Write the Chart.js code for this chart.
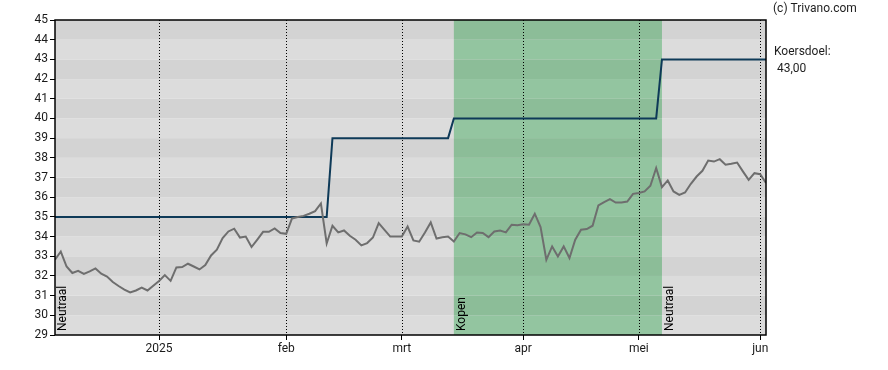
<!doctype html>
<html lang="nl">
<head>
  <meta charset="utf-8">
  <title>Koers en koersdoel</title>
  <style>
    html, body { margin: 0; padding: 0; background: #fff; }
    #chart { display: block; }
  </style>
</head>
<body>
  <canvas id="chart" width="888" height="370"></canvas>

  <script src="https://cdn.jsdelivr.net/npm/chart.js"></script>
  <script>
    // trading days from 4 dec 2024 to 3 jun 2025, one value per day
    const prices = [
      32.82, 33.24, 32.48, 32.15, 32.26, 32.10, 32.23, 32.38, 32.11, 31.97,
      31.69, 31.49, 31.31, 31.16, 31.26, 31.41, 31.26, 31.50, 31.74, 32.04,
      31.75, 32.43, 32.45, 32.62, 32.48, 32.33, 32.55, 33.04, 33.33, 33.92,
      34.26, 34.40, 33.95, 34.00, 33.47, 33.85, 34.24, 34.24, 34.41, 34.18,
      34.14, 34.92, 34.99, 35.05, 35.16, 35.29, 35.68, 33.65, 34.55, 34.21,
      34.31, 34.04, 33.84, 33.55, 33.67, 33.95, 34.68, 34.34, 34.00, 34.00,
      34.00, 34.51, 33.80, 33.74, 34.21, 34.72, 33.90, 33.97, 34.00, 33.75,
      34.18, 34.11, 33.97, 34.21, 34.18, 33.97, 34.26, 34.31, 34.21, 34.60,
      34.58, 34.62, 34.60, 35.16, 34.48, 32.82, 33.50, 32.99, 33.50, 32.91,
      33.84, 34.35, 34.38, 34.55, 35.58, 35.75, 35.90, 35.73, 35.73, 35.78,
      36.17, 36.21, 36.29, 36.58, 37.48, 36.51, 36.85, 36.29, 36.12, 36.24,
      36.68, 37.05, 37.34, 37.86, 37.81, 37.93, 37.65, 37.70, 37.76, 37.31,
      36.88, 37.22, 37.17, 36.72
    ];

    // koersdoel: day index where each level starts
    const targetStart  = [0, 48, 69, 105];
    const targetValues = [35, 39, 40, 43];

    // advies periods
    const adviceStart  = [0, 69, 105];
    const adviceLabels = ['Neutraal', 'Kopen', 'Neutraal'];

    // month ticks (first trading day of the month)
    const tickIndex  = [18, 40, 60, 81, 101, 122];
    const tickLabels = ['2025', 'feb', 'mrt', 'apr', 'mei', 'jun'];

    const yMin = 29, yMax = 45;
    const lastIndex = prices.length - 1;

    const target = prices.map((_, i) => {
      let v = targetValues[0];
      targetStart.forEach((s, k) => { if (i >= s) v = targetValues[k]; });
      return v;
    });

    const FONT = 'Roboto, "Liberation Sans", sans-serif';

    const backdrop = {
      id: 'backdrop',
      beforeDraw(chart) {
        const { ctx, chartArea: a, scales: { x, y } } = chart;
        ctx.save();
        // grey bands
        for (let v = yMin; v < yMax; v++) {
          const top = y.getPixelForValue(v + 1), bot = y.getPixelForValue(v);
          ctx.fillStyle = v % 2 === 0 ? '#d3d3d3' : '#dcdcdc';
          ctx.fillRect(a.left, top, a.right - a.left, bot - top);
        }
        // green "Kopen" zone
        adviceStart.forEach((s, k) => {
          if (adviceLabels[k] !== 'Kopen') return;
          const end = k + 1 < adviceStart.length ? adviceStart[k + 1] : lastIndex;
          const x0 = x.getPixelForValue(s), x1 = x.getPixelForValue(end);
          for (let v = yMin; v < yMax; v++) {
            const top = y.getPixelForValue(v + 1), bot = y.getPixelForValue(v);
            ctx.fillStyle = v % 2 === 0 ? '#8cbd98' : '#93c5a0';
            ctx.fillRect(x0, top, x1 - x0, bot - top);
          }
        });
        // dotted month lines
        ctx.strokeStyle = '#000';
        ctx.lineWidth = 1;
        ctx.setLineDash([1, 2]);
        tickIndex.forEach(t => {
          const px = Math.round(x.getPixelForValue(t)) + 0.5;
          ctx.beginPath();
          ctx.moveTo(px, a.top);
          ctx.lineTo(px, a.bottom);
          ctx.stroke();
        });
        ctx.setLineDash([]);
        // vertical advice labels
        ctx.fillStyle = '#000';
        ctx.font = '12px ' + FONT;
        ctx.textAlign = 'left';
        ctx.textBaseline = 'top';
        adviceStart.forEach((s, k) => {
          ctx.save();
          ctx.translate(x.getPixelForValue(s) + 2, a.bottom - 4);
          ctx.rotate(-Math.PI / 2);
          ctx.fillText(adviceLabels[k], 0, 0);
          ctx.restore();
        });
        ctx.restore();
      },
      afterDraw(chart) {
        const { ctx, chartArea: a } = chart;
        ctx.save();
        ctx.strokeStyle = '#000';
        ctx.lineWidth = 1.5;
        ctx.strokeRect(a.left, a.top, a.right - a.left, a.bottom - a.top);
        ctx.fillStyle = '#1e1e1e';
        ctx.font = '12px ' + FONT;
        ctx.textAlign = 'left';
        ctx.textBaseline = 'middle';
        ctx.fillText('(c) Trivano.com', 773, 9);
        ctx.fillText('Koersdoel:', 774, 52);
        ctx.fillText(' ' + targetValues[targetValues.length - 1].toFixed(2).replace('.', ','), 774, 69);
        ctx.restore();
      }
    };

    new Chart(document.getElementById('chart'), {
      type: 'line',
      data: {
        labels: prices.map((_, i) => i),
        datasets: [
          {
            data: prices.map((p, i) => ({ x: i, y: p })),
            borderColor: '#6e6e6e',
            borderWidth: 2,
            pointRadius: 0,
            tension: 0
          },
          {
            data: target.map((p, i) => ({ x: i, y: p })),
            borderColor: '#0e3a58',
            borderWidth: 2,
            pointRadius: 0,
            tension: 0
          }
        ]
      },
      options: {
        responsive: false,
        animation: false,
        layout: { padding: { top: 20, right: 122, bottom: 0, left: 0 } },
        plugins: { legend: { display: false }, tooltip: { enabled: false } },
        scales: {
          x: {
            type: 'linear',
            min: 0,
            max: lastIndex,
            afterBuildTicks: s => { s.ticks = tickIndex.map(v => ({ value: v })); },
            afterFit: s => { s.height = 35; },
            ticks: {
              autoSkip: false,
              maxRotation: 0,
              padding: 2,
              color: '#1a1a1a',
              font: { family: FONT, size: 12 },
              callback: v => tickLabels[tickIndex.indexOf(v)]
            },
            grid: { drawOnChartArea: false, drawTicks: true, tickLength: 5, color: '#000' },
            border: { display: false }
          },
          y: {
            min: yMin,
            max: yMax,
            afterFit: s => { s.width = 55; },
            ticks: {
              stepSize: 1,
              autoSkip: false,
              padding: 2,
              color: '#1a1a1a',
              font: { family: FONT, size: 12 }
            },
            grid: { drawOnChartArea: false, drawTicks: true, tickLength: 5, color: '#000' },
            border: { display: false }
          }
        }
      },
      plugins: [backdrop]
    });
  </script>
</body>
</html>
